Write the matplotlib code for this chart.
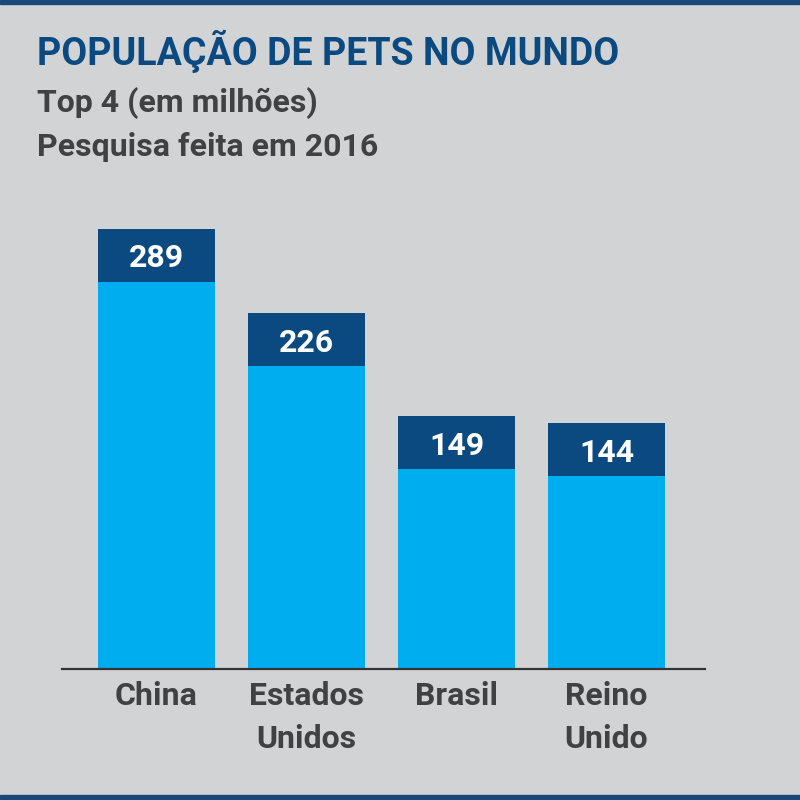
import matplotlib
matplotlib.use("Agg")
import matplotlib.pyplot as plt
from matplotlib.patches import Rectangle

categories = ["China", "Estados\nUnidos", "Brasil", "Reino\nUnido"]
values = [289, 226, 149, 144]
cap_labels = ["289", "226", "149", "144"]

title = "POPULAÇÃO DE PETS NO MUNDO"
subtitle1 = "Top 4 (em milhões)"
subtitle2 = "Pesquisa feita em 2016"

BG = "#d1d3d4"
LIGHT = "#00adee"
DARK = "#0b4a80"
TEXT = "#414042"
CAP = 39.5  # cap height in data units

plt.rcParams["font.family"] = ["Roboto", "DejaVu Sans"]

fig = plt.figure(figsize=(8, 8), dpi=100, facecolor=BG)
ax = fig.add_axes([0.0775, 0.16375, 0.80375, 0.58625])
ax.set_facecolor(BG)

x = list(range(len(values)))
ax.bar(x, values, width=0.78, color=LIGHT, zorder=2)
ax.bar(x, [CAP] * len(values), bottom=values, width=0.78, color=DARK, zorder=2)
for xi, v, lab in zip(x, values, cap_labels):
    ax.annotate(lab, (xi, v + CAP / 2), xytext=(0, -2.2), textcoords="offset points",
                ha="center", va="center", color="white",
                fontsize=23, fontweight="bold", zorder=3)

ax.set_xlim(-0.63, 3.657)
ax.set_ylim(0, 350)
for s in ["top", "right", "left"]:
    ax.spines[s].set_visible(False)
ax.spines["bottom"].set_color("#333333")
ax.spines["bottom"].set_linewidth(1.6)
ax.set_yticks([])
ax.set_xticks(x)
ax.set_xticklabels(categories, fontsize=23, fontweight="bold", color=TEXT,
                   linespacing=1.55, va="top")
ax.tick_params(axis="x", length=0, pad=8.5)

fig.text(0.046, 0.919, title, fontsize=27, fontweight="bold", color=DARK, va="baseline")
fig.text(0.046, 0.860, subtitle1, fontsize=23, fontweight="bold", color=TEXT, va="baseline")
fig.text(0.046, 0.805, subtitle2, fontsize=23, fontweight="bold", color=TEXT, va="baseline")

fig.patches.append(Rectangle((0, 0.995), 1, 0.005, transform=fig.transFigure,
                             color="#1b4a78", zorder=5))
fig.patches.append(Rectangle((0, 0), 1, 0.006, transform=fig.transFigure,
                             color="#1b4a78", zorder=5))

fig.savefig("out.png", dpi=100, facecolor=BG)
